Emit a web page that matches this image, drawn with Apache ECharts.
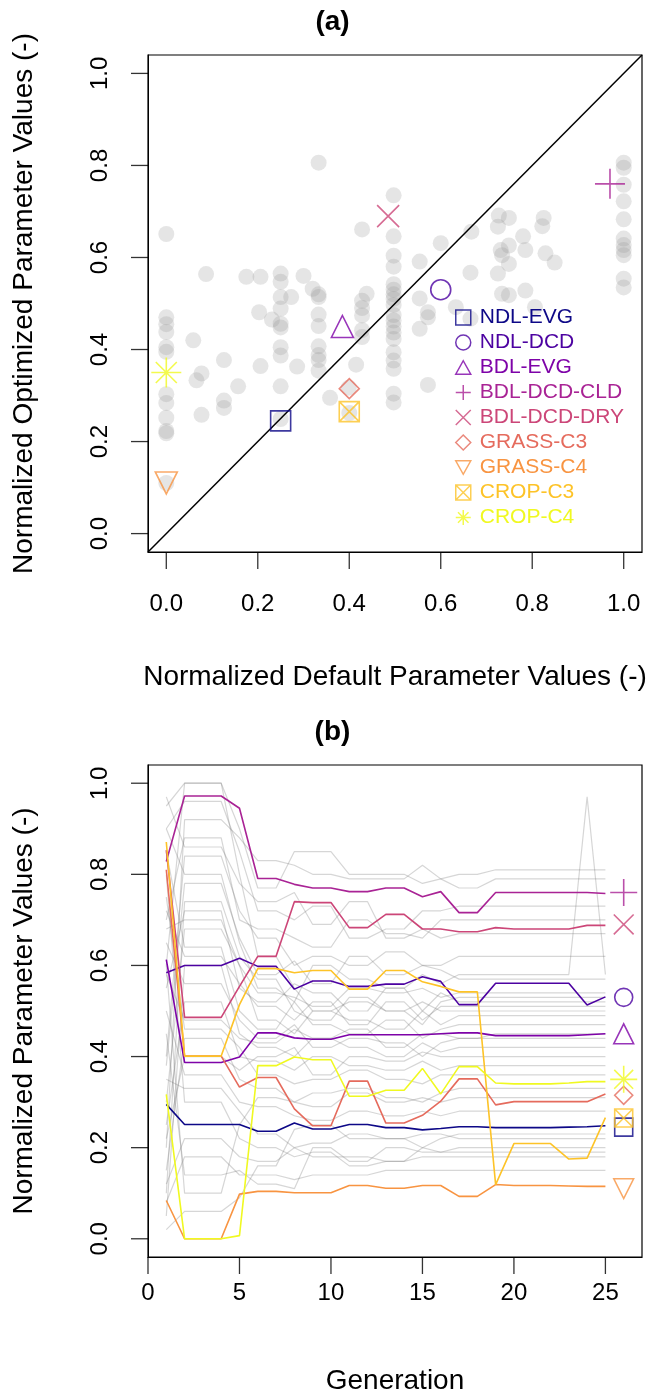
<!DOCTYPE html>
<html lang="en">
<head>
<meta charset="UTF-8">
<title>PFT parameters</title>
<script src="https://cdn.jsdelivr.net/npm/echarts@6/dist/echarts.min.js"></script>
<style>
  html,body{margin:0;padding:0;background:#fff;}
  #main{width:665px;height:1396px;}
</style>
</head>
<body>
<div id="main"></div>
<script>
// PFT names, colours and final values
var pftNames = ['NDL-EVG','NDL-DCD','BDL-EVG','BDL-DCD-CLD','BDL-DCD-DRY','GRASS-C3','GRASS-C4','CROP-C3','CROP-C4'];
var pftColors = ['#0D0887','#4C02A1','#7E03A8','#A92395','#CC4678','#E56B5D','#F89441','#FDC328','#F0F921'];
var pftDefault = [0.25, 0.60, 0.385, 0.97, 0.485, 0.40, 0.0, 0.40, 0.0];
var pftOptimized = [0.245, 0.53, 0.45, 0.76, 0.69, 0.315, 0.11, 0.265, 0.35];

// gray points of panel (a): [default, optimized]
var otherPoints = [
  [0,0.651],[0,0.470],[0,0.455],[0,0.438],[0,0.405],[0,0.395],[0,0.303],[0,0.284],[0,0.252],[0,0.223],[0,0.218],[0,0.11],
  [0.087,0.564],[0.059,0.420],[0.077,0.348],[0.066,0.333],[0.077,0.258],[0.126,0.377],[0.126,0.289],[0.126,0.273],
  [0.157,0.320],[0.175,0.558],[0.206,0.558],[0.203,0.481],[0.206,0.364],[0.231,0.465],
  [0.25,0.565],[0.25,0.547],[0.25,0.514],[0.25,0.489],[0.25,0.456],[0.25,0.448],[0.25,0.405],[0.25,0.387],[0.25,0.320],[0.25,0.249],
  [0.273,0.514],[0.286,0.363],[0.300,0.560],[0.320,0.532],
  [0.333,0.806],[0.333,0.520],[0.333,0.514],[0.333,0.476],[0.333,0.451],[0.333,0.407],[0.333,0.388],[0.333,0.377],[0.333,0.354],
  [0.358,0.295],[0.415,0.367],[0.428,0.661],[0.438,0.521],[0.428,0.506],[0.428,0.490],[0.428,0.474],[0.428,0.442],[0.428,0.427],
  [0.399,0.317],[0.40,0.262],
  [0.497,0.735],[0.497,0.646],[0.497,0.604],[0.497,0.580],[0.497,0.542],[0.497,0.530],[0.497,0.520],[0.497,0.510],[0.497,0.497],
  [0.497,0.475],[0.497,0.463],[0.497,0.450],[0.497,0.437],[0.497,0.423],[0.497,0.394],[0.497,0.376],[0.497,0.358],[0.497,0.304],[0.497,0.285],
  [0.554,0.591],[0.554,0.511],[0.572,0.481],[0.572,0.470],[0.554,0.445],[0.572,0.323],[0.600,0.631],[0.665,0.567],[0.665,0.467],
  [0.667,0.656],[0.633,0.492],[0.727,0.691],[0.749,0.686],[0.725,0.667],[0.731,0.616],[0.734,0.605],[0.749,0.626],[0.749,0.586],
  [0.725,0.565],[0.734,0.521],[0.749,0.518],[0.780,0.646],[0.785,0.616],[0.785,0.528],[0.829,0.609],[0.849,0.589],[0.825,0.686],
  [0.822,0.668],[0.806,0.492],
  [1,0.806],[1,0.795],[1,0.758],[1,0.722],[1,0.683],[1,0.641],[1,0.627],[1,0.616],[1,0.605],[1,0.554],[1,0.535]
];

// panel (b): generations and PFT trajectories
var generations = [1,2,3,4,5,6,7,8,9,10,11,12,13,14,15,16,17,18,19,20,21,22,23,24,25];
var pftTraces = [
  [0.295,0.251,0.251,0.251,0.251,0.236,0.236,0.254,0.241,0.241,0.251,0.251,0.244,0.244,0.239,0.242,0.246,0.246,0.244,0.244,0.244,0.244,0.245,0.246,0.248],
  [0.584,0.600,0.600,0.600,0.616,0.598,0.598,0.548,0.566,0.566,0.554,0.554,0.559,0.559,0.575,0.565,0.514,0.514,0.561,0.561,0.561,0.561,0.561,0.513,0.531],
  [0.613,0.387,0.387,0.387,0.399,0.452,0.452,0.441,0.438,0.438,0.448,0.448,0.448,0.448,0.448,0.450,0.452,0.452,0.446,0.446,0.446,0.446,0.446,0.448,0.450],
  [0.828,0.972,0.972,0.972,0.945,0.791,0.791,0.778,0.770,0.770,0.762,0.762,0.770,0.770,0.751,0.762,0.716,0.716,0.760,0.760,0.760,0.760,0.760,0.760,0.758],
  [0.853,0.486,0.486,0.486,0.554,0.620,0.620,0.740,0.738,0.738,0.683,0.683,0.712,0.712,0.680,0.680,0.674,0.674,0.683,0.680,0.680,0.680,0.680,0.688,0.688],
  [0.810,0.401,0.401,0.401,0.333,0.354,0.354,0.285,0.248,0.248,0.346,0.346,0.254,0.254,0.271,0.302,0.351,0.351,0.294,0.301,0.301,0.301,0.301,0.301,0.318],
  [0.084,0.0,0.0,0.0,0.098,0.104,0.104,0.101,0.101,0.101,0.117,0.117,0.111,0.111,0.117,0.117,0.093,0.093,0.119,0.117,0.117,0.117,0.116,0.115,0.115],
  [0.871,0.401,0.401,0.401,0.514,0.593,0.593,0.584,0.589,0.589,0.548,0.548,0.589,0.589,0.564,0.554,0.542,0.542,0.119,0.209,0.209,0.209,0.175,0.177,0.266],
  [0.317,0.0,0.0,0.0,0.007,0.380,0.380,0.399,0.393,0.393,0.313,0.313,0.326,0.326,0.374,0.318,0.378,0.378,0.342,0.340,0.340,0.340,0.342,0.345,0.345]
];

// other parameters (gray) over generations
var otherTraces = [
  [0.95,1.00,1.00,1.00,0.80,0.62,0.62,0.55,0.50,0.50,0.52,0.52,0.50,0.50,0.52,0.50,0.50,0.50,0.50,0.50,0.50,0.50,0.50,0.50,0.50],
  [0.60,1.00,1.00,1.00,0.90,0.77,0.77,0.85,0.85,0.85,0.80,0.80,0.80,0.80,0.78,0.79,0.80,0.80,0.81,0.81,0.81,0.81,0.81,0.81,0.81],
  [0.20,0.92,0.92,0.92,0.88,0.83,0.83,0.82,0.80,0.80,0.79,0.79,0.79,0.79,0.82,0.79,0.77,0.77,0.79,0.79,0.79,0.79,0.79,0.79,0.79],
  [0.70,0.88,0.88,0.88,0.70,0.68,0.68,0.66,0.64,0.64,0.70,0.70,0.67,0.67,0.66,0.70,0.70,0.70,0.70,0.70,0.70,0.70,0.70,0.70,0.70],
  [0.40,0.84,0.84,0.84,0.72,0.66,0.66,0.60,0.62,0.62,0.60,0.60,0.63,0.63,0.60,0.60,0.62,0.62,0.62,0.62,0.62,0.62,0.62,0.62,0.62],
  [0.90,0.80,0.80,0.80,0.65,0.55,0.55,0.52,0.60,0.60,0.57,0.57,0.55,0.55,0.58,0.56,0.58,0.58,0.58,0.58,0.58,0.58,0.58,0.97,0.58],
  [0.10,0.74,0.74,0.74,0.62,0.57,0.57,0.50,0.48,0.48,0.53,0.53,0.50,0.50,0.47,0.52,0.53,0.53,0.53,0.53,0.53,0.53,0.53,0.53,0.53],
  [0.55,0.72,0.72,0.72,0.55,0.52,0.52,0.56,0.54,0.54,0.50,0.50,0.55,0.55,0.50,0.54,0.52,0.52,0.52,0.52,0.52,0.52,0.52,0.52,0.52],
  [0.30,0.68,0.68,0.68,0.60,0.48,0.48,0.45,0.50,0.50,0.48,0.48,0.46,0.46,0.50,0.47,0.49,0.49,0.49,0.49,0.49,0.49,0.49,0.49,0.49],
  [0.85,0.64,0.64,0.64,0.50,0.46,0.46,0.52,0.47,0.47,0.45,0.45,0.48,0.48,0.44,0.46,0.47,0.47,0.47,0.47,0.47,0.47,0.47,0.47,0.47],
  [0.05,0.60,0.60,0.60,0.45,0.42,0.42,0.40,0.44,0.44,0.42,0.42,0.40,0.40,0.43,0.41,0.42,0.42,0.42,0.42,0.42,0.42,0.42,0.42,0.42],
  [0.65,0.56,0.56,0.56,0.48,0.44,0.44,0.47,0.42,0.42,0.44,0.44,0.43,0.43,0.40,0.43,0.44,0.44,0.44,0.44,0.44,0.44,0.44,0.44,0.44],
  [0.25,0.52,0.52,0.52,0.40,0.39,0.39,0.37,0.40,0.40,0.38,0.38,0.37,0.37,0.39,0.37,0.38,0.38,0.38,0.38,0.38,0.38,0.38,0.38,0.38],
  [0.75,0.46,0.46,0.46,0.42,0.36,0.36,0.34,0.35,0.35,0.37,0.37,0.35,0.35,0.34,0.36,0.36,0.36,0.36,0.36,0.36,0.36,0.36,0.36,0.36],
  [0.15,0.44,0.44,0.44,0.35,0.33,0.33,0.30,0.32,0.32,0.33,0.33,0.31,0.31,0.30,0.32,0.33,0.33,0.33,0.33,0.33,0.33,0.33,0.33,0.33],
  [0.50,0.36,0.36,0.36,0.30,0.29,0.29,0.27,0.26,0.26,0.28,0.28,0.27,0.27,0.28,0.27,0.28,0.28,0.28,0.28,0.28,0.28,0.28,0.28,0.28],
  [0.35,0.33,0.33,0.33,0.28,0.23,0.23,0.20,0.21,0.21,0.23,0.23,0.22,0.22,0.20,0.22,0.23,0.23,0.23,0.23,0.23,0.23,0.23,0.23,0.23],
  [0.80,0.30,0.30,0.30,0.22,0.20,0.20,0.18,0.19,0.19,0.16,0.16,0.17,0.17,0.20,0.19,0.20,0.20,0.20,0.20,0.20,0.20,0.20,0.20,0.20],
  [0.12,0.22,0.22,0.22,0.18,0.17,0.17,0.20,0.18,0.18,0.18,0.18,0.17,0.17,0.18,0.18,0.18,0.18,0.18,0.18,0.18,0.18,0.18,0.18,0.18],
  [0.45,0.14,0.14,0.14,0.15,0.12,0.12,0.11,0.20,0.20,0.17,0.17,0.20,0.20,0.19,0.19,0.19,0.19,0.19,0.19,0.19,0.19,0.19,0.19,0.19],
  [0.02,0.06,0.06,0.06,0.09,0.16,0.16,0.24,0.25,0.25,0.22,0.22,0.22,0.22,0.23,0.23,0.22,0.22,0.22,0.22,0.22,0.22,0.22,0.22,0.22],
  [0.60,0.10,0.10,0.10,0.25,0.31,0.31,0.30,0.29,0.29,0.32,0.32,0.30,0.30,0.31,0.30,0.31,0.31,0.31,0.31,0.31,0.31,0.31,0.31,0.31],
  [0.90,0.96,0.96,0.96,0.85,0.72,0.72,0.70,0.73,0.73,0.66,0.66,0.68,0.68,0.72,0.72,0.73,0.73,0.73,0.73,0.73,0.73,0.73,0.73,0.73],
  [0.38,0.78,0.78,0.78,0.66,0.58,0.58,0.61,0.56,0.56,0.62,0.62,0.58,0.58,0.60,0.59,0.57,0.57,0.57,0.57,0.57,0.57,0.57,0.57,0.57],
  [0.72,0.62,0.62,0.62,0.56,0.51,0.51,0.48,0.52,0.52,0.47,0.47,0.52,0.52,0.48,0.51,0.51,0.51,0.51,0.51,0.51,0.51,0.51,0.51,0.51],
  [0.58,0.48,0.48,0.48,0.44,0.43,0.43,0.46,0.44,0.44,0.46,0.46,0.42,0.42,0.45,0.45,0.44,0.44,0.45,0.45,0.45,0.45,0.45,0.45,0.45],
  [0.22,0.40,0.40,0.40,0.37,0.40,0.40,0.42,0.36,0.36,0.40,0.40,0.39,0.39,0.41,0.40,0.40,0.40,0.40,0.40,0.40,0.40,0.40,0.40,0.40],
  [0.97,0.86,0.86,0.86,0.78,0.74,0.74,0.76,0.69,0.69,0.74,0.74,0.66,0.66,0.68,0.66,0.67,0.67,0.67,0.67,0.67,0.67,0.67,0.67,0.67],
  [0.08,0.18,0.18,0.18,0.14,0.14,0.14,0.13,0.14,0.14,0.14,0.14,0.15,0.15,0.15,0.15,0.15,0.15,0.15,0.15,0.15,0.15,0.15,0.15,0.15],
  [0.68,0.70,0.70,0.70,0.60,0.54,0.54,0.53,0.51,0.51,0.55,0.55,0.54,0.54,0.55,0.53,0.54,0.54,0.54,0.54,0.54,0.54,0.54,0.54,0.54]
];
var tickA = [0, 0.2, 0.4, 0.6, 0.8, 1.0];
var tickGen = [0, 5, 10, 15, 20, 25];

// open symbols, stroked only
var pftSymbols = [
  'path://M0,0L10,0L10,10L0,10Z',
  'circle',
  'path://M5,0L10,9L0,9Z',
  'path://M5,0L5,10M0,5L10,5',
  'path://M0,0L10,10M10,0L0,10',
  'path://M5,0L10,5L5,10L0,5Z',
  'path://M0,0L10,0L5,9Z',
  'path://M0,0L10,0L10,10L0,10ZM0,0L10,10M10,0L0,10',
  'path://M5,0L5,10M0,5L10,5M1.5,1.5L8.5,8.5M8.5,1.5L1.5,8.5'
];
var symSizeA = [20, 20, 22, 30, 22, 20, 22, 20, 30];

var myChart = echarts.init(document.getElementById('main'));
var font = 'Liberation Sans, Arial, sans-serif';
var TICK = 17;

function mkLabel(margin, extra) {
  return Object.assign({margin: margin, fontSize: 24, color: '#000', fontFamily: font}, extra || {});
}
function fmt(v) { return v.toFixed(1); }

function valAxis(gridIndex, min, max, extra) {
  var a = {
    type: 'value', gridIndex: gridIndex, min: min, max: max,
    splitLine: {show: false},
    axisTick: {show: false},
    axisLine: {show: true, onZero: false, lineStyle: {color: '#000'}},
    nameLocation: 'middle',
    nameTextStyle: {fontSize: 28, color: '#000', fontFamily: font}
  };
  return Object.assign(a, extra || {});
}

// tick marks drawn as thin bars just outside the plot box
function xTicks(axis, values, atY) {
  return {
    type: 'scatter', xAxisIndex: axis, yAxisIndex: axis, clip: false, silent: true,
    data: values.map(function (v) { return [v, atY]; }),
    symbol: 'rect', symbolSize: [1.3, TICK], symbolOffset: [0, TICK / 2],
    itemStyle: {color: '#000'}, z: 6
  };
}
function yTicks(axis, values, atX) {
  return {
    type: 'scatter', xAxisIndex: axis, yAxisIndex: axis, clip: false, silent: true,
    data: values.map(function (v) { return [atX, v]; }),
    symbol: 'rect', symbolSize: [TICK, 1.3], symbolOffset: [-TICK / 2, 0],
    itemStyle: {color: '#000'}, z: 6
  };
}

var series = [];
// panel (a)
series.push({
  type: 'line', xAxisIndex: 0, yAxisIndex: 0, data: [[-0.04,-0.04],[1.04,1.04]],
  symbol: 'none', lineStyle: {color: '#000', width: 1.5}, silent: true, z: 3
});
series.push({
  type: 'scatter', xAxisIndex: 0, yAxisIndex: 0, data: otherPoints,
  symbolSize: 16, itemStyle: {color: 'rgba(150,150,150,0.3)'}, z: 2
});
pftNames.forEach(function (n, i) {
  series.push({
    name: n, type: 'scatter', xAxisIndex: 0, yAxisIndex: 0,
    data: [[pftDefault[i], pftOptimized[i]]],
    symbol: pftSymbols[i], symbolSize: symSizeA[i],
    itemStyle: {color: 'rgba(0,0,0,0)', borderColor: pftColors[i], borderWidth: 1.6}, z: 5
  });
});
series.push(xTicks(0, tickA, -0.04));
series.push(yTicks(0, tickA, -0.04));
// panel (b)
otherTraces.forEach(function (t) {
  series.push({
    type: 'line', xAxisIndex: 1, yAxisIndex: 1,
    data: generations.map(function (g, k) { return [g, t[k]]; }),
    symbol: 'none', lineStyle: {color: 'rgba(120,120,120,0.3)', width: 1.2}, silent: true, z: 2
  });
});
pftTraces.forEach(function (t, i) {
  series.push({
    type: 'line', xAxisIndex: 1, yAxisIndex: 1,
    data: generations.map(function (g, k) { return [g, t[k]]; }),
    symbol: 'none', lineStyle: {color: pftColors[i], width: 1.6}, silent: true, z: 4
  });
  series.push({
    type: 'scatter', xAxisIndex: 1, yAxisIndex: 1,
    data: [[26, pftOptimized[i]]],
    symbol: pftSymbols[i], symbolSize: symSizeA[i] * 0.9,
    itemStyle: {color: 'rgba(0,0,0,0)', borderColor: pftColors[i], borderWidth: 1.6}, z: 5
  });
});
series.push(xTicks(1, tickGen, -0.04));
series.push(yTicks(1, tickA, 0));

var option = {
  animation: false,
  backgroundColor: '#fff',
  title: [
    {text: '(a)', left: 'center', top: 3, textStyle: {fontSize: 28, fontWeight: 'bold', color: '#000', fontFamily: font}},
    {text: '(b)', left: 'center', top: 713, textStyle: {fontSize: 28, fontWeight: 'bold', color: '#000', fontFamily: font}}
  ],
  legend: {
    orient: 'vertical', left: 450, top: 302, itemGap: 4, itemWidth: 15, itemHeight: 15,
    data: pftNames.map(function (n, i) {
      return {name: n, icon: pftSymbols[i],
        itemStyle: {color: 'rgba(0,0,0,0)', borderColor: pftColors[i], borderWidth: 1.5},
        textStyle: {color: pftColors[i], fontSize: 21, fontFamily: font, padding: [0, 0, 0, 4]}};
    })
  },
  grid: [
    {left: 148, width: 494, top: 55, height: 497, show: true, borderColor: '#000', borderWidth: 1.2},
    {left: 148, width: 494, top: 765, height: 493, show: true, borderColor: '#000', borderWidth: 1.2}
  ],
  xAxis: [
    valAxis(0, -0.04, 1.04, {
      name: 'Normalized Default Parameter Values (-)', nameGap: 111,
      axisLabel: mkLabel(40, {customValues: tickA, formatter: fmt})
    }),
    valAxis(1, 0, 27, {
      interval: 5, name: 'Generation', nameGap: 110,
      axisLabel: mkLabel(24, {showMaxLabel: false})
    })
  ],
  yAxis: [
    valAxis(0, -0.04, 1.04, {
      name: 'Normalized Optimized Parameter Values (-)', nameGap: 110,
      axisLabel: mkLabel(36, {rotate: 90, customValues: tickA, formatter: fmt})
    }),
    valAxis(1, -0.04, 1.04, {
      name: 'Normalized Parameter Values (-)', nameGap: 110,
      axisLabel: mkLabel(36, {rotate: 90, customValues: tickA, formatter: fmt})
    })
  ],
  series: series
};
myChart.setOption(option);
</script>
</body>
</html>
